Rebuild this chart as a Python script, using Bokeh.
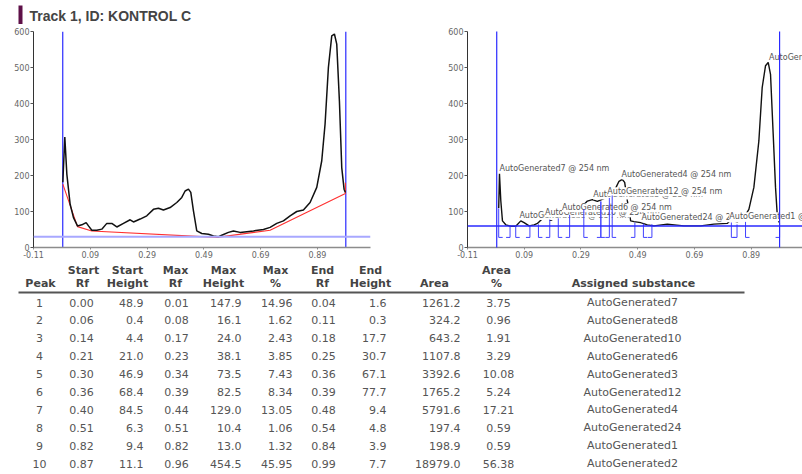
from bokeh.plotting import figure
from bokeh.layouts import column, row
from bokeh.models import Range1d, FixedTicker, Span, LabelSet, ColumnDataSource, PrintfTickFormatter
from bokeh.embed import file_html
from bokeh.resources import INLINE
from bokeh.core.properties import value

# ---------------- data ----------------
title_text = "Track 1, ID: KONTROL C"
x_ticks = [-0.11, 0.09, 0.29, 0.49, 0.69, 0.89]
y_ticks = [0, 100, 200, 300, 400, 500, 600]

# left densitogram (raw) and baseline
rf_l = [-0.0067, 0.0003, 0.0074, 0.0191, 0.0308, 0.0449, 0.0602, 0.0754, 0.0837, 0.0954,
        0.1130, 0.1306, 0.1482, 0.1658, 0.1834, 0.2069, 0.2304, 0.2421, 0.2656, 0.2891,
        0.3125, 0.3301, 0.3477, 0.3712, 0.3947, 0.4123, 0.4240, 0.4358, 0.4440, 0.4534,
        0.4651, 0.4827, 0.5062, 0.5238, 0.5414, 0.5531, 0.5766, 0.5942, 0.6177, 0.6412,
        0.6646, 0.6999, 0.7233, 0.7468, 0.7703, 0.7938, 0.8172, 0.8407, 0.8642, 0.8877,
        0.9053, 0.9170, 0.9287, 0.9405, 0.9499, 0.9581, 0.9675, 0.9757, 0.9839, 0.9886]
val_l = [181, 307, 204, 120, 83, 60, 63, 69, 60, 48,
         48, 51, 67, 67, 57, 67, 77, 71, 79, 88,
         106, 109, 104, 111, 125, 139, 157, 162, 153, 102,
         46, 39, 37, 32, 30, 34, 42, 46, 42, 44,
         46, 50, 56, 67, 74, 88, 100, 104, 125, 167,
         241, 343, 500, 588, 593, 565, 407, 222, 162, 153]
rf_base = [-0.0067, 0.0449, 0.0954, 0.5355, 0.7233, 0.9886, 0.9886]
val_base = [176, 58, 46, 28, 48, 150, 180]
threshold_l = 30

# right densitogram (baseline corrected)
rf_r = [0.000, 0.0027, 0.0074, 0.0132, 0.025, 0.0426, 0.0602, 0.0778, 0.0895, 0.1071,
        0.1247, 0.1365, 0.1482, 0.1658, 0.1834, 0.2069, 0.2304, 0.2421, 0.2656, 0.2891,
        0.3125, 0.3301, 0.3477, 0.3712, 0.3947, 0.4123, 0.4240, 0.4358, 0.4440, 0.4534,
        0.4651, 0.4769, 0.5003, 0.5238, 0.5473, 0.5942, 0.6529, 0.7116, 0.7585, 0.8055,
        0.8172, 0.8407, 0.8642, 0.8818, 0.8994, 0.9170, 0.9287, 0.9405, 0.9499, 0.9581,
        0.9675, 0.9757, 0.9816, 0.9875]
val_r = [110, 205, 130, 74, 63, 59, 59, 74, 69, 60,
         63, 67, 76, 84, 75, 86, 97, 91, 100, 110,
         129, 133, 128, 136, 151, 165, 184, 189, 181, 130,
         74, 72, 69, 63, 60, 65, 60, 60, 65, 67,
         76, 71, 83, 106, 167, 296, 444, 505, 514, 481,
         315, 167, 93, 70]
offset_r = 60
bracket_bottom = 28
front_rf = [-0.007, 0.99]

# peak table
peaks = [1, 2, 3, 4, 5, 6, 7, 8, 9, 10]
start_rf = [0.00, 0.06, 0.14, 0.21, 0.30, 0.36, 0.40, 0.51, 0.82, 0.87]
start_height = [48.9, 0.4, 4.4, 21.0, 46.9, 68.4, 84.5, 6.3, 9.4, 11.1]
max_rf = [0.01, 0.08, 0.17, 0.23, 0.34, 0.39, 0.44, 0.51, 0.82, 0.96]
max_height = [147.9, 16.1, 24.0, 38.1, 73.5, 82.5, 129.0, 10.4, 13.0, 454.5]
max_pct = [14.96, 1.62, 2.43, 3.85, 7.43, 8.34, 13.05, 1.06, 1.32, 45.95]
end_rf = [0.04, 0.11, 0.18, 0.25, 0.36, 0.39, 0.48, 0.54, 0.84, 0.99]
end_height = [1.6, 0.3, 17.7, 30.7, 67.1, 77.7, 9.4, 4.8, 3.9, 7.7]
area = [1261.2, 324.2, 643.2, 1107.8, 3392.6, 1765.2, 5791.6, 197.4, 198.9, 18979.0]
area_pct = [3.75, 0.96, 1.91, 3.29, 10.08, 5.24, 17.21, 0.59, 0.59, 56.38]
substance = ["AutoGenerated7", "AutoGenerated8", "AutoGenerated10", "AutoGenerated6",
             "AutoGenerated3", "AutoGenerated12", "AutoGenerated4", "AutoGenerated24",
             "AutoGenerated1", "AutoGenerated2"]
wavelength = "254 nm"

# ---------------- style ----------------
FONT = "DejaVu Sans"
BLUE = "#2a2aff"
STUB = 0.014


def base_plot(x_end, ml, mr):
    p = figure(width=401, height=238, x_range=Range1d(-0.11, x_end), y_range=Range1d(0, 600),
               output_backend="svg", toolbar_location=None,
               min_border_left=ml, min_border_right=mr, min_border_top=7, min_border_bottom=15)
    p.outline_line_color = None
    p.grid.visible = False
    p.background_fill_color = "white"
    p.xaxis.ticker = FixedTicker(ticks=x_ticks)
    p.yaxis.ticker = FixedTicker(ticks=y_ticks)
    p.xaxis.formatter = PrintfTickFormatter(format="%.2f")
    for ax in (p.xaxis, p.yaxis):
        ax.major_label_text_font_size = "8px"
        ax.major_label_text_font = FONT
        ax.major_label_text_color = "#666666"
        ax.major_label_standoff = 1
        ax.major_tick_in = 0
        ax.minor_tick_in = 0
        ax.minor_tick_out = 0
    p.xaxis.axis_line_color = "#8c8c8c"
    p.xaxis.axis_line_width = 1.5
    p.xaxis.major_tick_line_color = "#8c8c8c"
    p.xaxis.major_tick_out = 2
    p.yaxis.axis_line_color = "#333333"
    p.yaxis.major_tick_line_color = "#555555"
    p.yaxis.major_tick_out = 3
    return p


# ---------------- left plot ----------------
left = base_plot(1.077, 33, 31)
left.add_layout(Span(location=threshold_l, dimension="width", line_color="#a8a8ff", line_width=2))
left.segment(x0=front_rf, y0=[0, 0], x1=front_rf, y1=[600, 600], line_color=BLUE, line_width=1.2)
left.line(rf_base, val_base, line_color="#ff3030", line_width=1.1)
left.line(rf_l, val_l, line_color="#111111", line_width=1.5)

# ---------------- right plot ----------------
right = base_plot(1.0708, 66, 0)
right.line(rf_r, val_r, line_color="#111111", line_width=1.4)

lab_src = ColumnDataSource(dict(
    x=max_rf,
    y=[h + offset_r for h in max_height],
    text=[s + " @ " + wavelength for s in substance],
))
right.add_layout(LabelSet(x="x", y="y", text="text", source=lab_src,
                          text_font_size=value("8px"), text_font=value(FONT),
                          text_color=value("#555555"),
                          text_baseline=value("bottom"), text_align=value("left"), x_offset=-2,
                          background_fill_color="white"))

bx, by = [], []
for s, sh, e, eh in zip(start_rf, start_height, end_rf, end_height):
    bx.append([s + STUB, s, s])
    by.append([bracket_bottom, bracket_bottom, sh + offset_r])
    bx.append([e - STUB, e, e])
    by.append([bracket_bottom, bracket_bottom, eh + offset_r])
right.multi_line(bx, by, line_color="#4040ff", line_width=1, level="overlay")
right.add_layout(Span(location=offset_r, dimension="width", line_color=BLUE, line_width=1.5, level="overlay"))
right.segment(x0=front_rf, y0=[0, 0], x1=front_rf, y1=[600, 600], line_color=BLUE, line_width=1.2,
              level="overlay")

# ---------------- title ----------------
tfig = figure(width=802, height=24, x_range=Range1d(0, 802), y_range=Range1d(24, 0),
              output_backend="svg", toolbar_location=None, min_border=0)
tfig.axis.visible = False
tfig.grid.visible = False
tfig.outline_line_color = None
tfig.quad(left=[18], right=[22], top=[5], bottom=[24], fill_color="#5e1048", line_color=None)
tfig.text(x=[29], y=[15], text=[title_text], text_font=value("Liberation Sans"),
          text_font_style="bold", text_font_size="14px", text_color="#444444",
          text_baseline="middle", text_align="left")

# ---------------- table ----------------
table = figure(width=802, height=212, x_range=Range1d(0, 802), y_range=Range1d(474, 262),
               output_backend="svg", toolbar_location=None, min_border=0)
table.axis.visible = False
table.grid.visible = False
table.outline_line_color = None

H1, H2, RULE = 270, 283, 292
row_y = [302 + 17.9 * i for i in range(len(peaks))]

header1 = [("Start", 83), ("Start", 127), ("Max", 175), ("Max", 223), ("Max", 275),
           ("End", 322), ("End", 370), ("Area", 496)]
header2 = [("Peak", 40), ("Rf", 82), ("Height", 127), ("Rf", 175), ("Height", 223), ("%", 275),
           ("Rf", 322), ("Height", 370), ("Area", 434), ("%", 496), ("Assigned substance", 633)]
hstyle = dict(text_font=value(FONT), text_font_style="bold", text_font_size="11px",
              text_color="#444444", text_baseline="middle", text_align="center")
table.text(x=[h[1] for h in header1], y=[H1] * len(header1), text=[h[0] for h in header1], **hstyle)
table.text(x=[h[1] for h in header2], y=[H2] * len(header2), text=[h[0] for h in header2], **hstyle)
table.segment(x0=[18], y0=[RULE], x1=[744], y1=[RULE], line_color="#555555", line_width=2)

vstyle = dict(text_font=value(FONT), text_font_size="11px", text_color="#555555",
              text_baseline="middle")
cols = [
    ([str(v) for v in peaks], 39, "center"),
    (["%.2f" % v for v in start_rf], 81, "center"),
    (["%.1f" % v for v in start_height], 143, "right"),
    (["%.2f" % v for v in max_rf], 176, "center"),
    (["%.1f" % v for v in max_height], 241, "right"),
    (["%.2f" % v for v in max_pct], 292, "right"),
    (["%.2f" % v for v in end_rf], 323, "center"),
    (["%.1f" % v for v in end_height], 386, "right"),
    (["%.1f" % v for v in area], 460, "right"),
    (["%.2f" % v for v in area_pct], 498, "center"),
    (substance, 632, "center"),
]
for texts, xpos, align in cols:
    table.text(x=[xpos] * len(texts), y=row_y, text=texts, text_align=align, **vstyle)

layout = column(tfig, row(left, right), table)
open("out.html", "w").write(file_html(layout, INLINE))
